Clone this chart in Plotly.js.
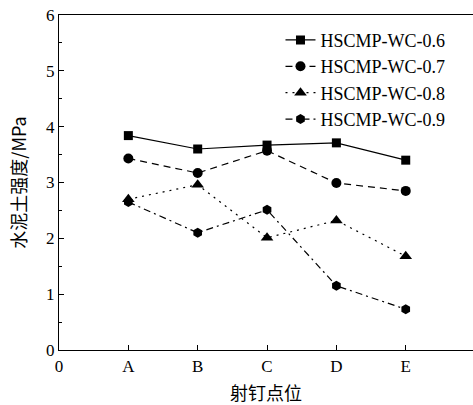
<!DOCTYPE html>
<html><head><meta charset="utf-8">
<script src="https://cdn.plot.ly/plotly-3.0.1.min.js"></script>
<style>html,body{margin:0;padding:0;background:#fff}#c{width:473px;height:405px}</style>
</head><body><div id="c"></div>
<script>
const points = [1, 2, 3, 4, 5];
const tickVals = [0, 1, 2, 3, 4, 5];
const tickText = ['0', 'A', 'B', 'C', 'D', 'E'];
const seriesNames = ['HSCMP-WC-0.6', 'HSCMP-WC-0.7', 'HSCMP-WC-0.8', 'HSCMP-WC-0.9'];
const wc06 = [3.84, 3.60, 3.67, 3.71, 3.40];
const wc07 = [3.43, 3.17, 3.57, 2.99, 2.85];
const wc08 = [2.70, 2.96, 2.01, 2.32, 1.68];
const wc09 = [2.65, 2.10, 2.51, 1.15, 0.73];

const values = [wc06, wc07, wc08, wc09];
const symbols = ['square', 'circle', 'triangle-up', 'hexagon'];
const dashes = ['solid', '7px,5px', '2px,5px', '7px,4px,2px,4px'];
const sizes = [9, 10, 11, 10];

const serif = 'Liberation Serif, Times New Roman, serif';
const traces = values.map((v, i) => ({
  x: points, y: v, name: seriesNames[i], type: 'scatter', mode: 'lines+markers',
  line: {color: '#000', width: 1.2, dash: dashes[i]},
  marker: {symbol: symbols[i], size: sizes[i], color: '#000'}
}));

const layout = {
  width: 473, height: 405,
  margin: {l: 59, r: 0, t: 15, b: 55},
  paper_bgcolor: '#fff', plot_bgcolor: '#fff',
  showlegend: true,
  legend: {x: 0.535, y: 0.98, xanchor: 'left', yanchor: 'top', bgcolor: 'rgba(0,0,0,0)',
           font: {family: serif, size: 18, color: '#000'}, itemwidth: 30},
  xaxis: {range: [0, 5.97], tickvals: tickVals, ticktext: tickText, ticks: 'inside', ticklen: 5,
          tickcolor: '#000', showline: true, linecolor: '#000', linewidth: 1.3, mirror: true,
          showgrid: false, zeroline: false, tickfont: {family: serif, size: 17, color: '#000'},
          title: {text: '射钉点位', font: {family: 'Noto Sans CJK SC', size: 18, color: '#000'}, standoff: 12}},
  yaxis: {range: [0, 6], dtick: 1, ticks: 'inside', ticklen: 5, tickcolor: '#000',
          minor: {dtick: 0.5, ticks: 'inside', ticklen: 3, tickcolor: '#000', showgrid: false},
          showline: true, linecolor: '#000', linewidth: 1.3, showgrid: false, zeroline: false,
          tickfont: {family: serif, size: 17, color: '#000'},
          title: {text: '水泥土强度/MPa', font: {family: 'Noto Sans CJK SC', size: 18, color: '#000'}, standoff: 14}}
};
Plotly.newPlot('c', traces, layout, {displayModeBar: false});
</script></body></html>
